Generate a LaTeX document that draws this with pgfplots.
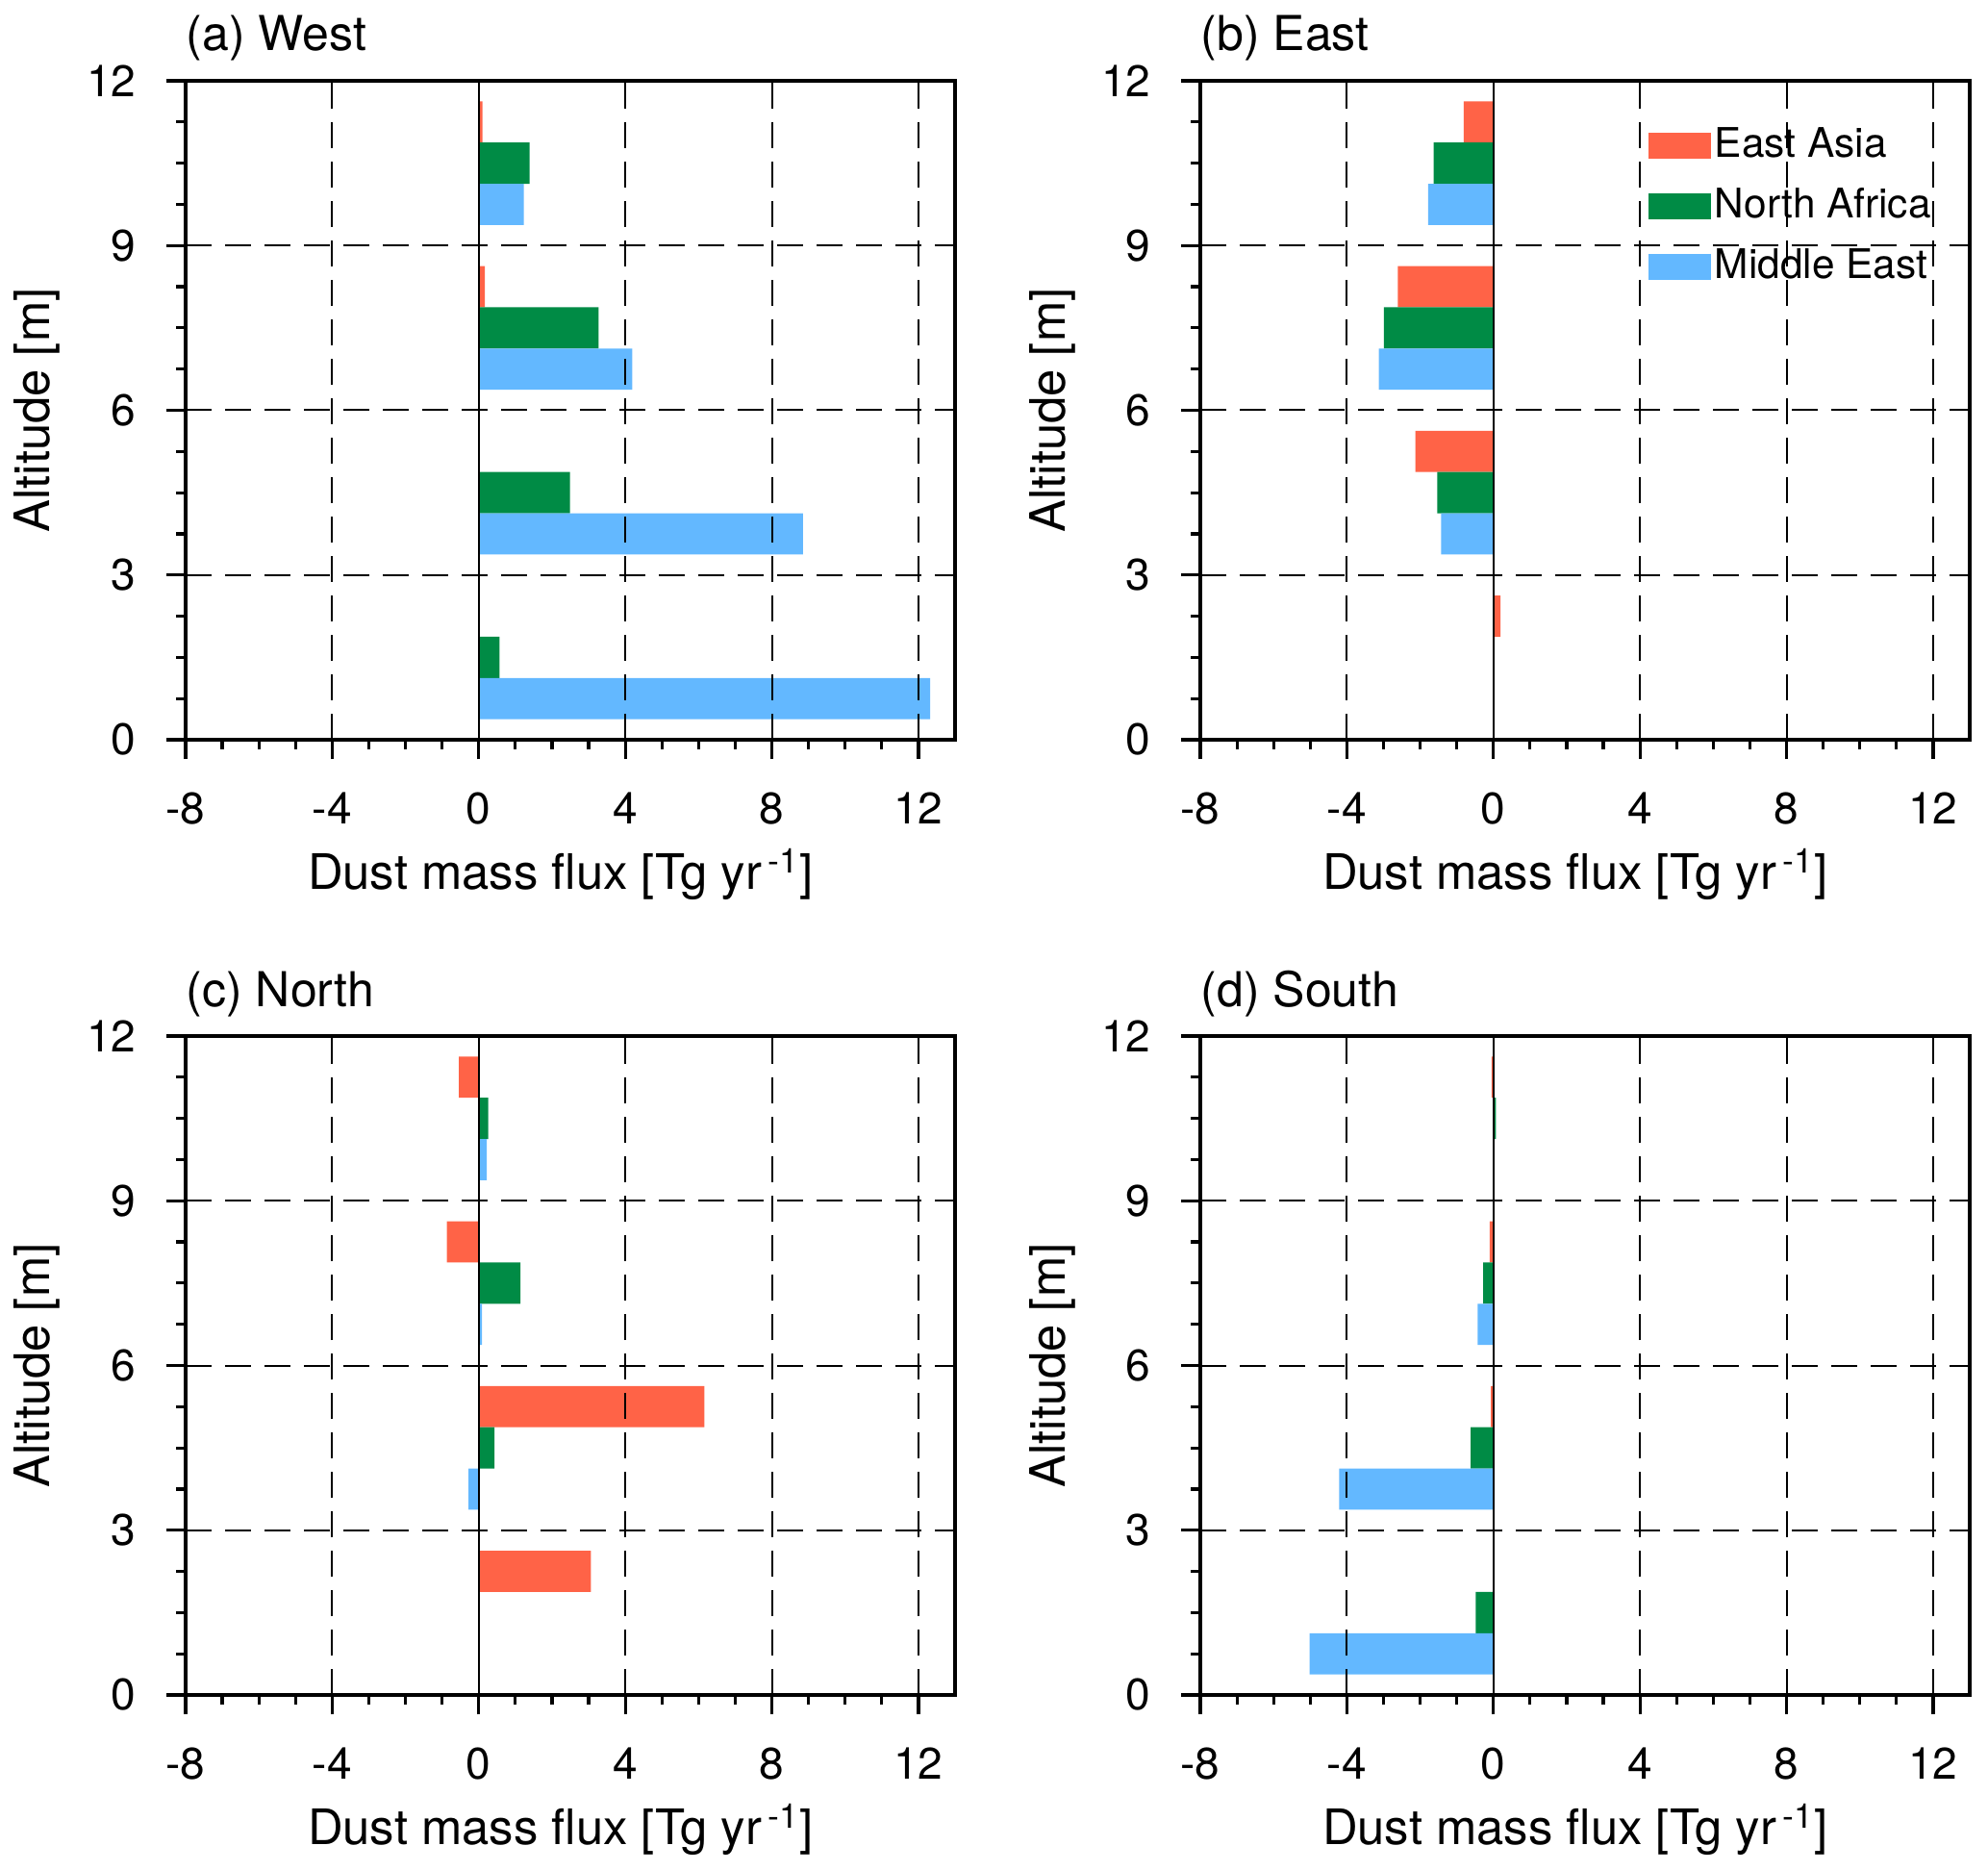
\documentclass[border=0pt]{standalone}
\usepackage{fontspec}
\setmainfont{TeX Gyre Heros}
\usepackage{pgfplots}
\pgfplotsset{compat=1.18}
\definecolor{cEA}{RGB}{255,99,71}
\definecolor{cNA}{RGB}{0,139,69}
\definecolor{cME}{RGB}{99,184,255}
\pgfplotsset{
  panel/.style={
    scale only axis, width=200pt, height=171.25pt,
    xmin=-8, xmax=13, ymin=0, ymax=12,
    xtick={-8,-4,0,4,8,12}, ytick={0,3,6,9,12},
    minor x tick num=3, minor y tick num=3,
    tick align=outside, xtick pos=left, ytick pos=left,
    major tick length=5pt, minor tick length=2.5pt,
    every tick/.style={black, line width=0.8pt},
    axis line style={black, line width=0.8pt},
    grid=major,
    major grid style={black, line width=0.5pt, dash pattern=on 6.75pt off 3.5pt},
    extra x ticks={0}, extra x tick labels={},
    extra x tick style={grid=major, major grid style={solid, black, line width=0.45pt}},
    axis on top,
    /pgf/number format/assume math mode=true,
    ticklabel style={font=\fontsize{11.5}{13}\selectfont},
    xticklabel style={anchor=base, inner sep=0pt},
    xticklabel shift=16.75pt,
    yticklabel style={anchor=east, inner sep=0pt},
    yticklabel shift=7.75pt,
    label style={font=\fontsize{12.7}{14}\selectfont},
    xlabel={Dust mass flux [Tg yr\textsuperscript{\,-1}]},
    ylabel={Altitude [m]},
    xlabel style={at={(axis description cs:0.4875,-0.2277)}, anchor=base, inner sep=0pt},
    ylabel style={at={(axis description cs:-0.17625,0.5)}, anchor=base, inner sep=0pt},
    every axis title shift=0pt,
    title style={at={(axis description cs:0,1)}, anchor=base west, yshift=7.75pt, inner sep=0pt, font=\fontsize{12.5}{14}\selectfont},
  },
  barEA/.style={xbar, bar width=0.75, bar shift=0pt, fill=cEA, draw=none,
    legend image code/.code={\fill[cEA] (0pt,-3.375pt) rectangle (16.25pt,3.375pt);}},
  barNA/.style={xbar, bar width=0.75, bar shift=0pt, fill=cNA, draw=none,
    legend image code/.code={\fill[cNA] (0pt,-3.375pt) rectangle (16.25pt,3.375pt);}},
  barME/.style={xbar, bar width=0.75, bar shift=0pt, fill=cME, draw=none,
    legend image code/.code={\fill[cME] (0pt,-3.375pt) rectangle (16.25pt,3.375pt);}},
}
\begin{document}
\begin{tikzpicture}[x=1pt,y=1pt]
\path[use as bounding box] (0,0) rectangle (516.75,-486.25);

% (a) West
\begin{axis}[panel, at={(48.25pt,-21pt)}, anchor=north west, title={(a) West}]
\addplot[barEA] coordinates {(0.10,11.25) (0.17,8.25) (0,5.25) (0.01,2.25)};
\addplot[barNA] coordinates {(1.39,10.5) (3.27,7.5) (2.49,4.5) (0.57,1.5)};
\addplot[barME] coordinates {(1.23,9.75) (4.19,6.75) (8.85,3.75) (12.32,0.75)};
\end{axis}

% (b) East
\begin{axis}[panel, at={(312pt,-21pt)}, anchor=north west, title={(b) East},
  legend style={at={(axis description cs:0.5813,0.936)}, anchor=north west,
    draw=none, fill=none, inner sep=0pt, row sep=4.5pt,
    font=\fontsize{10.6}{12}\selectfont,
    nodes={inner sep=1pt}},
  legend cell align=left]
\addplot[barEA] coordinates {(-0.81,11.25) (-2.61,8.25) (-2.13,5.25) (0.19,2.25)};
\addlegendentry{East Asia}
\addplot[barNA] coordinates {(-1.63,10.5) (-2.99,7.5) (-1.53,4.5) (0,1.5)};
\addlegendentry{North Africa}
\addplot[barME] coordinates {(-1.78,9.75) (-3.13,6.75) (-1.43,3.75) (0,0.75)};
\addlegendentry{Middle East}
\end{axis}

% (c) North
\begin{axis}[panel, at={(48.25pt,-269.25pt)}, anchor=north west, title={(c) North}]
\addplot[barEA] coordinates {(-0.54,11.25) (-0.87,8.25) (6.16,5.25) (3.06,2.25)};
\addplot[barNA] coordinates {(0.26,10.5) (1.14,7.5) (0.43,4.5) (0,1.5)};
\addplot[barME] coordinates {(0.22,9.75) (0.09,6.75) (-0.28,3.75) (0.02,0.75)};
\end{axis}

% (d) South
\begin{axis}[panel, at={(312pt,-269.25pt)}, anchor=north west, title={(d) South}]
\addplot[barEA] coordinates {(-0.05,11.25) (-0.10,8.25) (-0.07,5.25) (0.02,2.25)};
\addplot[barNA] coordinates {(0.07,10.5) (-0.28,7.5) (-0.62,4.5) (-0.48,1.5)};
\addplot[barME] coordinates {(0.02,9.75) (-0.43,6.75) (-4.21,3.75) (-5.02,0.75)};
\end{axis}
\end{tikzpicture}
\end{document}
